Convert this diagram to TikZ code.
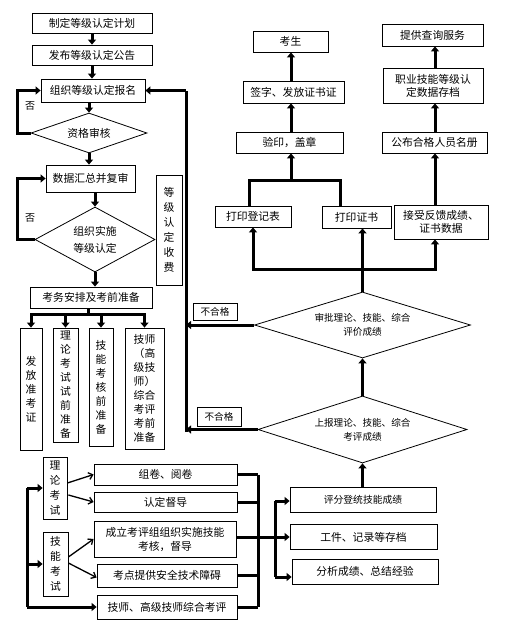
\documentclass[tikz,border=0pt]{standalone}
\usepackage{fontspec}
\setmainfont{Noto Sans CJK SC}
\usetikzlibrary{arrows.meta,shapes.geometric,calc}
\begin{document}
\begin{tikzpicture}[x=1pt,y=-1pt,
  box/.style={draw,line width=0.8pt,inner sep=0pt,align=center,font=\fontsize{10.8}{13}\selectfont},
  vbox/.style={box,font=\fontsize{10.8}{14}\selectfont},
  dia/.style={draw,diamond,line width=0.8pt,inner sep=0pt,align=center},
  tarr/.style={line width=3pt,-{Triangle[width=8pt,length=5pt]}},
  tline/.style={line width=3pt},
  narr/.style={line width=1.3pt,-{Straight Barb[width=7pt,length=4pt]}},
  lbl/.style={inner sep=0pt,font=\fontsize{10}{12}\selectfont}
]
\useasboundingbox (0,0) rectangle (511,634);
\fill[white] (0,0) rectangle (511,634);

% left column
\node[box,minimum width=120pt,minimum height=20pt] (n1) at (92,23) {制定等级认定计划};
\node[box,minimum width=120pt,minimum height=20pt] (n2) at (92,55) {发布等级认定公告};
\node[box,minimum width=104pt,minimum height=23pt] (n3) at (93,90.5) {组织等级认定报名};
\node[dia,aspect=2.9,minimum width=116pt,minimum height=40pt,font=\fontsize{10.8}{13}\selectfont] (d1) at (89,133) {资格审核};
\node[box,minimum width=89pt,minimum height=27pt] (n4) at (90.5,178.5) {数据汇总并复审};
\node[dia,aspect=1.85,minimum width=120pt,minimum height=65pt,font=\fontsize{10.8}{17}\selectfont] (d2) at (95,239.5) {组织实施\\等级认定};
\node[vbox,minimum width=26pt,minimum height=110pt,font=\fontsize{10.8}{15}\selectfont] (fee) at (169,230) {等\\级\\认\\定\\收\\费};
\node[box,minimum width=122pt,minimum height=21pt] (n5) at (91,297.5) {考务安排及考前准备};
\node[vbox,minimum width=22pt,minimum height=122pt] (v1) at (31,389) {发\\放\\准\\考\\证};
\node[vbox,minimum width=25pt,minimum height=114pt] (v2) at (65.5,385) {理\\论\\考\\试\\试\\前\\准\\备};
\node[vbox,minimum width=24pt,minimum height=118pt] (v3) at (101,387) {技\\能\\考\\核\\前\\准\\备};
\node[vbox,minimum width=39pt,minimum height=121pt] (v4) at (144.5,388.5) {技师\\（高\\级技\\师）\\综合\\考评\\考前\\准备};

\node[lbl] (no1) at (30,106) {否};
\node[lbl] (no2) at (30,218) {否};

% bottom left
\node[vbox,minimum width=24pt,minimum height=62pt,font=\fontsize{10.8}{15}\selectfont] (t1) at (55,488) {理\\论\\考\\试};
\node[vbox,minimum width=25pt,minimum height=64pt,font=\fontsize{10.8}{15}\selectfont] (t2) at (55.5,564) {技\\能\\考\\试};
\node[box,minimum width=143pt,minimum height=21pt] (b1) at (165.5,474.5) {组卷、阅卷};
\node[box,minimum width=143pt,minimum height=20pt] (b2) at (165.5,502) {认定督导};
\node[box,minimum width=142pt,minimum height=36pt,font=\fontsize{10.8}{14}\selectfont] (b3) at (165,539) {成立考评组组织实施技能\\考核，督导};
\node[box,minimum width=140pt,minimum height=23pt] (b4) at (167,575.5) {考点提供安全技术障碍};
\node[box,minimum width=140pt,minimum height=24pt] (b5) at (167,607) {技师、高级技师综合考评};

% bottom right
\node[box,minimum width=146pt,minimum height=25pt,font=\fontsize{9.8}{12}\selectfont] (r1) at (363,499.5) {评分登统技能成绩};
\node[box,minimum width=147pt,minimum height=25pt] (r2) at (363.5,537) {工件、记录等存档};
\node[box,minimum width=146pt,minimum height=25pt] (r3) at (365,571.5) {分析成绩、总结经验};

% diamonds right
\node[dia,aspect=3.2,minimum width=209pt,minimum height=67pt,font=\fontsize{9.6}{14}\selectfont] (d3) at (362.5,429.5) {上报理论、技能、综合\\考评成绩};
\node[dia,aspect=3.2,minimum width=216pt,minimum height=66pt,font=\fontsize{9.6}{14}\selectfont] (d4) at (362.5,325) {审批理论、技能、综合\\评价成绩};
\node[box,minimum width=44pt,minimum height=17pt,font=\fontsize{9.6}{12}\selectfont] (nf1) at (215,311.5) {不合格};
\node[box,minimum width=44pt,minimum height=19pt,font=\fontsize{9.6}{12}\selectfont] (nf2) at (219,416.5) {不合格};

% top right
\node[box,minimum width=76pt,minimum height=21pt] (p1) at (253,216.5) {打印登记表};
\node[box,minimum width=69pt,minimum height=22pt] (p2) at (356.5,217) {打印证书};
\node[box,minimum width=94pt,minimum height=34pt] (p3) at (441,222) {接受反馈成绩、\\证书数据};
\node[box,minimum width=107pt,minimum height=21pt] (q1) at (289.5,142.5) {验印，盖章};
\node[box,minimum width=101pt,minimum height=22pt] (q2) at (293.5,92) {签字、发放证书证};
\node[box,minimum width=75pt,minimum height=21pt] (q3) at (290.5,41.5) {考生};
\node[box,minimum width=105pt,minimum height=21pt] (s1) at (434.5,142.5) {公布合格人员名册};
\node[box,minimum width=100pt,minimum height=35pt] (s2) at (433,85.5) {职业技能等级认\\定数据存档};
\node[box,minimum width=101pt,minimum height=22pt] (s3) at (432.5,35) {提供查询服务};

% connectors left column
\draw[tarr] (n1.south) -- (n2.north);
\draw[tarr] (n2.south) -- (n2.south |- n3.north);
\draw[tarr] (d1.north |- n3.south) -- (d1.north);
\draw[tarr] (d1.west) -- ++(-13,0) |- (n3.west);
\draw[tarr] (d1.south) -- (d1.south |- n4.north);
\draw[tarr] (d2.north |- n4.south) -- (d2.north);
\draw[tarr] (d2.west) -- ++(-17,0) |- (n4.west);
\draw[tarr] (d2.south) -- (d2.south |- n5.north);

\coordinate (br) at (88,314);
\draw[tline] (n5.south -| br) -- (br);
\draw[tline,line cap=rect] (v1.north |- br) -- (v4.north |- br);
\draw[tarr] (v1.north |- br) -- (v1.north);
\draw[tarr] (v2.north |- br) -- (v2.north);
\draw[tarr] (v3.north |- br) -- (v3.north);
\draw[tarr] (v4.north |- br) -- (v4.north);

% bottom left
\coordinate (lt) at (27,488);
\draw[tline] (lt) -- (b5.west -| lt);
\draw[tarr] (lt) -- (t1.west);
\draw[tarr] (t2.west -| lt) -- (t2.west);
\draw[tarr] (b5.west -| lt) -- (b5.west);
\draw[narr] ($(t1.east)+(0,-5)$) -- (b1.west);
\draw[narr] ($(t1.east)+(1,7)$) -- (b2.west);
\draw[narr] ($(t2.east)+(0,-7)$) -- (b3.west);
\draw[narr] ($(t2.east)+(0,-1)$) -- ($(b4.west)+(0,2)$);

% collectors
\coordinate (m1) at (258,474.5);
\coordinate (m5) at (258,607);
\draw[tline] (m1) -- (m5);
\draw[tline] (b1.east) -- (m1);
\draw[tline] (b2.east) -- (b2.east -| m1);
\draw[tline] (b4.east) -- (b4.east -| m1);
\draw[tline] (b5.east) -- (m5);
\draw[tarr] (b3.east |- r2.west) -- (r2.west);
\coordinate (k1) at (275,501);
\coordinate (k3) at (275,577);
\draw[tline] (k1) -- (k3);
\draw[tarr] (k1) -- (k1 -| r1.west);
\draw[tarr] (k3) -- (k3 -| r3.west);

% right flow upward
\draw[tarr] (d3.south |- r1.north) -- (d3.south);
\draw[tarr] (d3.north) -- (d4.south);
\coordinate (vt) at (186,90.5);
\coordinate (vb) at (186,432);
\draw[tline] (vb) -- (vt);
\draw[tarr] (vt) -- (n3.east);
\draw[tarr] (d4.west) -- (d4.west -| vt);
\draw[tarr] (d3.west) -- (d3.west -| vt);

\coordinate (hb) at (362.5,269);
\coordinate (hr) at (435,269);
\draw[tline] (d4.north) -- (hb);
\draw[tline,line cap=rect] (p1.south |- hb) -- (hr);
\draw[tarr] (p1.south |- hb) -- (p1.south);
\draw[tarr] (hb) -- (hb |- p2.south);
\draw[tarr] (hr) -- (hr |- p3.south);
\draw[tarr] (hr |- p3.north) -- (hr |- s1.south);
\draw[tarr] (hr |- s1.north) -- (hr |- s2.south);
\draw[tarr] (hr |- s2.north) -- (hr |- s3.south);

\coordinate (ha) at (249,180);
\coordinate (hc) at (340,180);
\coordinate (hq) at (291,180);
\draw[tline] (ha |- p1.north) -- (ha) -- (hc) -- (hc |- p2.north);
\draw[tarr] (hq) -- (hq |- q1.south);
\draw[tarr] (hq |- q1.north) -- (hq |- q2.south);
\draw[tarr] (hq |- q2.north) -- (hq |- q3.south);
\end{tikzpicture}
\end{document}
